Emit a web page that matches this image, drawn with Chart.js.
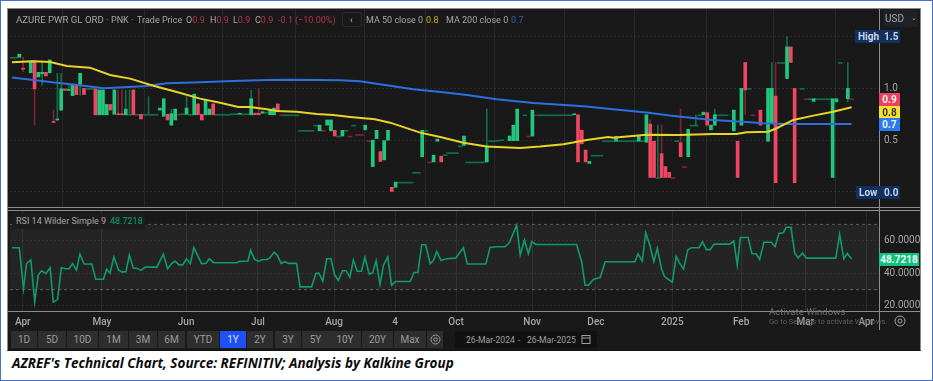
<!DOCTYPE html>
<html>
<head>
<meta charset="utf-8">
<title>AZREF Technical Chart</title>
<script src="https://cdn.jsdelivr.net/npm/chart.js"></script>
<style>
html, body { margin: 0; padding: 0; background: #fff; }
#page { position: relative; width: 933px; height: 381px; overflow: hidden; box-sizing: border-box; font-family: Roboto, "Noto Sans", sans-serif; }
#frame { position: absolute; left: 0; top: 0; width: 933px; height: 381px; box-sizing: border-box; border: 1.5px solid #4472c4; }
#panel { position: absolute; left: 7px; top: 8px; width: 914px; height: 343px; box-sizing: border-box; background: #191919; border: 1px solid #8a8a8a; border-bottom: 1px solid #111; }
canvas { position: absolute; left: 10px; }
#priceChart { top: 9px; }
#rsiChart { top: 211px; }
.line { position: absolute; background: #8e8e8e; }
.t { position: absolute; white-space: nowrap; font-size: 9px; line-height: 12px; color: #a6a6a6; }
.red { color: #b5324d; }
.box { position: absolute; text-align: center; font-size: 10px; font-weight: 700; line-height: 13px; height: 13px; }
.btn { position: absolute; top: 331px; height: 17px; line-height: 17px; text-align: center; background: #2e2e2e; color: #9a9a9a; font-size: 10px; }
#caption { position: absolute; left: 12px; top: 354px; font-family: "Open Sans", sans-serif; font-weight: 700; font-style: italic; font-size: 13.5px; line-height: 18px; color: #0b0b0b; white-space: nowrap; }
</style>
</head>
<body>
<div id="page">
  <div id="frame"></div>
  <div id="panel"></div>
  <canvas id="priceChart" width="910" height="198"></canvas>
  <canvas id="rsiChart" width="910" height="120"></canvas>

  <div class="line" style="left:8px;top:207px;width:912px;height:1px"></div>
  <div class="line" style="left:8px;top:210px;width:912px;height:1px"></div>
  <div class="line" style="left:8px;top:311px;width:912px;height:1px"></div>
  <div class="line" style="left:879px;top:9px;width:1px;height:321px"></div>

  <div class="t" style="left:16px;top:14px;font-size:9.6px">AZURE PWR GL ORD</div>
  <div class="t" style="left:106px;top:14px">·</div>
  <div class="t" style="left:111px;top:14px">PNK</div>
  <div class="t" style="left:131px;top:14px">·</div>
  <div class="t" style="left:137px;top:14px">Trade Price</div>
  <div class="t" style="left:186px;top:14px">O<span class="red">0.9</span></div>
  <div class="t" style="left:210px;top:14px">H<span class="red">0.9</span></div>
  <div class="t" style="left:233px;top:14px">L<span class="red">0.9</span></div>
  <div class="t" style="left:255px;top:14px">C<span class="red">0.9</span></div>
  <div class="t red" style="left:278px;top:14px">-0.1</div>
  <div class="t red" style="left:295px;top:14px">(−10.00%)</div>
  <div style="position:absolute;left:342px;top:12px;width:20px;height:15px;box-sizing:border-box;border:1px solid #2c2c2c;border-radius:2px"></div>
  <div class="t" style="left:350px;top:14px;color:#c8c8c8">‹</div>
  <div class="t" style="left:366px;top:14px">MA 50 close 0</div>
  <div class="t" style="left:426px;top:14px;color:#c4b222">0.8</div>
  <div class="t" style="left:446px;top:14px">MA 200 close 0</div>
  <div class="t" style="left:511px;top:14px;color:#2d62b5">0.7</div>

  <div class="box" style="left:883px;top:10px;width:35px;height:17px;line-height:17px;background:#1e2226;color:#a6a6a6;font-weight:400;text-align:left;text-indent:2px;border-radius:2px">USD</div>
  <div class="t" style="left:911px;top:11px;font-size:7px;line-height:14px">⌄</div>

  <div class="box" style="left:855px;top:30px;width:45px;background:#12305e;color:#c9d4e6;text-align:left;text-indent:3px">High<span style="position:absolute;left:29px;text-indent:0">1.5</span></div>
  <div class="box" style="left:856px;top:186px;width:44px;background:#12305e;color:#c9d4e6;text-align:left;text-indent:3px">Low<span style="position:absolute;left:28px;text-indent:0">0.0</span></div>
  <div class="box" style="left:879px;top:93px;width:21px;background:#ee4060;color:#f5f5f5">0.9</div>
  <div class="box" style="left:879px;top:106px;width:21px;background:#f6e12b;color:#333">0.8</div>
  <div class="box" style="left:879px;top:118px;width:21px;background:#2b7bf0;color:#f5f5f5">0.7</div>

  <div style="position:absolute;left:12px;top:214px;width:133px;height:15px;background:#1c1c1c"></div>
  <div class="t" style="left:16px;top:215px">RSI 14 Wilder Simple 9</div>
  <div class="t" style="left:110px;top:215px;color:#0aa06e">48.7218</div>
  <div class="box" style="left:879px;top:253px;width:40px;background:#13c07e;color:#eafff5">48.7218</div>

  <div class="t" style="left:769px;top:306px;font-size:9.6px;color:#6f6f6f">Activate Windows</div>
  <div class="t" style="left:769px;top:316px;font-size:7.5px;color:#5f5f5f">Go to Settings to activate Windows.</div>

  <svg style="position:absolute;left:894px;top:315px" width="12" height="12" viewBox="0 0 12 12" fill="none" stroke="#a6a6a6" stroke-width="1"><circle cx="6" cy="6" r="5"/><circle cx="6" cy="6" r="2"/></svg>

  <div class="btn" style="left:11px;width:26px">1D</div>
  <div class="btn" style="left:38px;width:28px">5D</div>
  <div class="btn" style="left:67px;width:31px">10D</div>
  <div class="btn" style="left:99px;width:29px">1M</div>
  <div class="btn" style="left:129px;width:28px">3M</div>
  <div class="btn" style="left:158px;width:27px">6M</div>
  <div class="btn" style="left:187px;width:32px">YTD</div>
  <div class="btn" style="left:220px;width:26px;background:#1f4ff5;color:#d8e2ff">1Y</div>
  <div class="btn" style="left:247px;width:26px">2Y</div>
  <div class="btn" style="left:275px;width:26px">3Y</div>
  <div class="btn" style="left:302px;width:27px">5Y</div>
  <div class="btn" style="left:329px;width:32px">10Y</div>
  <div class="btn" style="left:362px;width:31px">20Y</div>
  <div class="btn" style="left:394px;width:32px">Max</div>
  <div class="btn" style="left:427px;width:16px"></div>
  <svg style="position:absolute;left:430px;top:334px" width="11" height="11" viewBox="0 0 11 11" fill="none" stroke="#9a9a9a" stroke-width="1"><circle cx="5.5" cy="5.5" r="4.5"/><circle cx="5.5" cy="5.5" r="1.8"/></svg>
  <div style="position:absolute;left:455px;top:331px;width:142px;height:17px;background:#111"></div>
  <div class="t" style="left:466px;top:334px;font-size:8.6px;color:#a0a0a0">26-Mar-2024</div>
  <div class="t" style="left:518px;top:334px;font-size:8.6px;color:#a0a0a0">-</div>
  <div class="t" style="left:527px;top:334px;font-size:8.6px;color:#a0a0a0">26-Mar-2025</div>
  <svg style="position:absolute;left:581px;top:334px" width="10" height="10" viewBox="0 0 10 10" fill="none" stroke="#a0a0a0" stroke-width="1"><rect x="1" y="1.5" width="8" height="8"/><line x1="1" y1="4" x2="9" y2="4"/></svg>

  <div id="caption">AZREF's Technical Chart, Source: REFINITIV; Analysis by Kalkine Group</div>
</div>

<script>
// price data, one entry per session, null where the feed has no trade
const opens = [
  1.30,1.30,1.30,1.195,1.265,1.15,1.265,1.11,1.14,1.155,
  1.15,.675,.695,.79,.995,.98,.93,1.04,1.04,1.0,
  1.0,1.0,.995,.745,.745,.745,.845,.75,.755,.75,
  .745,.75,.985,.75,.75,.75,.75,.75,.75,.79,
  .73,.75,.645,.695,.75,.755,.75,.75,.745,.85,
  .75,.745,.745,.85,.75,.75,.75,.75,.755,.755,
  .75,.755,.755,.745,.76,.76,.76,.77,.745,.745,
  .85,.745,.745,.745,.745,.745,.595,.595,.595,.595,
  .645,.59,.595,.645,.59,.595,.54,.54,.595,.54,
  .645,.555,.555,.60,.495,.245,.515,.39,.31,.50,
  .045,.045,.095,.095,.095,.095,.19,.19,.34,.595,
  .29,.29,.49,.345,.36,.38,.38,.38,.445,.45,
  .29,.29,.29,.29,.29,.29,.495,.495,.50,.505,
  null,.495,.495,.495,null,.745,.54,.54,.745,.745,
  .745,.745,.745,.745,.745,.745,.745,.745,.745,.745,
  .595,.405,.275,.355,.355,.355,.495,.495,.495,.49,
  .495,.495,.495,.495,.495,.49,.495,.48,.655,.49,
  .14,.37,.245,.19,.14,.495,.475,.245,.34,.645,
  .645,.745,.745,.765,.60,.645,.745,.745,.745,.69,
  .59,.49,.645,1.25,1.0,.745,null,.79,null,.49,
  .66,.925,1.25,1.25,1.095,1.40,1.0,null,1.0,.90,
  .90,.875,.90,.90,.90,.90,.14,.87,1.25,null,
  .90,.90
];
const closes = [
  1.30,1.30,1.33,1.185,1.265,1.265,.995,1.155,1.155,1.12,
  1.275,.67,.70,.995,.98,.985,1.04,.94,1.145,.94,
  1.0,1.0,.745,.985,.985,.845,.79,.985,.745,.745,
  .80,.75,.745,.75,.705,.75,.75,.75,.75,.81,
  .90,.695,.755,.80,.75,.755,.81,.75,.945,.745,
  .695,.895,.80,.745,.75,.75,.75,.75,.755,.755,
  .76,.755,.755,.90,.745,.745,.775,.77,.79,.81,
  .78,.745,.745,.745,.745,.745,.595,.595,.595,.595,
  .645,.645,.595,.695,.695,.54,.54,.595,.595,.54,
  .645,.555,.555,.645,.495,.50,.595,.295,.495,.595,
  0,.095,.095,.095,.095,.095,.19,.19,.595,.595,
  .29,.355,.51,.29,.36,.38,.38,.38,.445,.54,
  .29,.29,.29,.29,.29,.445,.495,.495,.50,.505,
  null,.54,.645,.80,null,.745,.54,.79,.745,.745,
  .745,.745,.745,.745,.745,.745,.745,.745,.755,.29,
  .465,.29,.295,.355,.355,.355,.495,.495,.495,.535,
  .495,.495,.495,.495,.495,.54,.495,.745,.14,.14,
  .14,.14,.14,.14,.14,.495,.34,.245,.605,.645,
  .645,.745,.77,.645,.645,.745,.745,.745,.745,.69,
  .79,.14,1.0,.985,1.0,.745,null,.645,null,1.0,
  1.0,.09,1.25,1.25,1.40,1.25,.09,null,1.0,.90,
  .90,.90,.90,.90,.90,.90,.90,.90,1.25,null,
  1.0,.90
];
// sessions whose high/low go past the body
const wickSessions = [3,6,8,11,12,13,15,18,28,29,30,31,36,42,46,63,65,125,159,168,170,171,176,180,185,193,200,201,204,220];
const wickHighs = [1.30,1.265,1.265,.79,1.145,1.145,1.04,1.145,.985,.985,.98,.985,.92,.80,.92,.98,1.0,.80,.54,.695,.645,.645,.80,.745,.80,1.25,1.25,1.25,1.5,1.25];
const wickLows = [1.16,.645,1.03,.67,.69,.79,.98,.935,.745,.745,.745,.745,.745,.645,.75,.745,.745,.29,.49,.14,.14,.14,.34,.645,.645,.745,.66,.09,1.095,.87];
// flat sessions that printed below the previous close
const downFlats = [44,71,82,89,91,92,94,110,136,138,174,177,195,209,221];

const ma50X = [0,5.5,9.9,14.2,20.2,25.4,30.6,36.6,42.7,48.7,53.9,58.6,61.6,66,68.6,73.7,78.9,83.2,87.6,94,97.9,105.7,110.9,116.9,122.9,131.6,136.7,142.8,148.8,154.4,155.6,164.3,172.9,181.5,187.6,190.2,195.8,198,202.3,207.5,212.6,217.4];
const ma50 = [1.252,1.261,1.255,1.216,1.20,1.129,1.094,1.026,.965,.901,.862,.82,.82,.798,.782,.775,.753,.743,.724,.701,.669,.573,.531,.476,.438,.425,.438,.46,.502,.531,.524,.553,.55,.56,.56,.576,.582,.615,.695,.737,.775,.817];
const ma200X = [0,5.5,11.6,17.6,23.7,28.9,34.9,40.1,48.7,57.3,66,72,79.8,85,90.1,97,103.9,111.7,117.8,125.5,135,148,155.6,164.3,170.3,176.3,181.5,190.2,194.5,200.5,207.5,217.4];
const ma200 = [1.104,1.081,1.055,1.03,1.001,1.01,1.023,1.049,1.059,1.071,1.081,1.084,1.081,1.078,1.068,1.03,.991,.962,.936,.894,.859,.827,.798,.766,.737,.714,.695,.676,.663,.656,.656,.656];

const rsiX = [0,1.9,3,3.8,4.9,5.9,6.8,7.7,8.8,9.9,10.7,11.8,12.8,13.8,14.8,15.7,16.7,17.6,18.7,20.7,21.7,23.7,24.5,25.4,26.4,27.6,28.4,29.5,30.4,31.4,32.5,33.4,34.5,37.5,39.2,40.3,41.4,42.2,43.3,44.2,45.2,46.2,47.1,49.1,50.2,51.1,52.2,58.2,59,61.1,61.8,62.8,63.8,64.7,66,66.8,67.9,68.7,69.7,70.7,71.6,73.7,74.6,77.6,78.7,79.5,80.5,81.5,82.6,83.5,84.5,85.6,86.5,87.5,88.4,89.4,90.5,91.4,92.5,93.4,94.3,95.3,96.2,97.3,98.3,99.3,103.1,104.1,105.1,106.1,107.1,108.3,109.1,110,111.1,112.6,114.9,116.9,117.9,122.7,123.8,125.5,127.7,128.8,130.7,131.6,132.7,133.7,134.6,135.7,146.2,147.5,148.4,149.3,150.6,152.3,153.6,161.3,162.1,163.2,164.1,165.2,166.2,167.1,168.2,169,171,172,172.9,173.9,175,175.9,177.9,178.8,179.8,180.8,181.8,185.8,186.9,187.8,188.6,190.6,191.6,192.7,193.6,194.7,196.6,197.6,198.6,199.7,200.5,201.7,202.7,203.6,204.7,205.7,213.3,214.3,215.4,216.3,217.4];
const rsi = [55.7,55.7,30.7,46.1,48.1,22.5,38.9,41.6,39.9,43.4,22.3,23.9,43.4,42.8,42.8,45.9,42,51.8,45.7,45.7,36.4,36.4,42.4,40.1,50,42,40.9,40.9,51.2,43.2,43,41.8,43.8,43.8,51.8,42.8,46.1,47.5,45.2,45.2,48.9,45.9,55.7,45.9,46.1,48.9,46.5,46.5,47.3,47.5,54.1,48.7,47.3,48.3,48.5,49.5,53,51.2,46.1,47.1,46.1,46.1,31.7,31.7,39.9,40.1,35.2,48.9,48.9,39.3,35.6,41.6,41.6,37.7,48.1,41.3,41.3,49.8,39.5,40.3,47.7,33.1,45,50,32.7,35,35,40.5,40.5,57.5,57.5,45.9,47.7,53.4,47.9,48.9,49.3,55.7,45.7,45.7,55.9,56.3,56.3,58.8,69.6,51.2,60.4,52,59.4,57.7,57.7,47.1,32.7,32.7,36.4,37.4,47.1,47.1,52,47.5,64.9,56.9,47.1,55.3,42.6,37.9,34.6,50.4,46.1,42.6,54.5,55.7,55.7,59.4,54.5,54.5,57.9,57.9,59.8,45,62,62,52,52,48.5,59,59,56.3,64.5,64.9,68.2,68.2,52.2,49.5,52.4,49.3,49.3,63.9,48.9,52.2,48.72];

const monthTicks = [2.8,23.3,45.1,63.7,83.4,99.2,115,134.7,151.2,171,188.8,205.4,221.2];
const monthLabels = ['Apr','May','Jun','Jul','Aug','4','Oct','Nov','Dec','2025','Feb','Mar','Apr'];
const priceTicks = [1.5,1.0,0.5,0];
const rsiTicks = [60,40,20];

const GREEN = '#22c77c', RED = '#f24463', DARK_GREEN = '#0f6e4a', DARK_RED = '#7d2338';
const xMin = -0.5, xMax = 224.5;

// candles sit a touch tighter than the axis unit
const candleX = i => i * 0.984 - 0.05;

const bodies = [], flats = [], wicks = [];
opens.forEach((o, i) => {
    const c = closes[i];
    if (o === null) return;
    const down = c < o || downFlats.includes(i);
    if (o === c) {
        flats.push({ x: candleX(i), y: [o, c], color: down ? DARK_RED : DARK_GREEN });
    } else {
        bodies.push({ x: candleX(i), y: [o, c], color: down ? RED : GREEN });
    }
});
wickSessions.forEach((s, n) => {
    const down = closes[s] < opens[s];
    wicks.push({ x: candleX(s), y: [wickLows[n], wickHighs[n]], color: down ? DARK_RED : DARK_GREEN });
});

const barColor = ctx => ctx.raw ? ctx.raw.color : GREEN;
const zip = (xs, ys) => xs.map((x, i) => ({ x: x, y: ys[i] }));

function monthAxis(showLabels, axisHeight) {
    return {
        type: 'linear',
        min: xMin,
        max: xMax,
        offset: false,
        afterBuildTicks: scale => { scale.ticks = monthTicks.map(v => ({ value: v })); },
        afterFit: scale => {
            scale.height = axisHeight;
            scale.paddingLeft = 0;
            scale.paddingRight = 0;
        },
        grid: { color: 'rgba(255,255,255,0.07)', drawTicks: false },
        border: { display: false },
        ticks: {
            display: showLabels,
            autoSkip: false,
            maxRotation: 0,
            padding: 5,
            color: '#a6a6a6',
            font: { family: 'Roboto', size: 10, weight: '500' },
            callback: (v, i) => monthLabels[i]
        }
    };
}

function valueAxis(min, max, ticks, fmt) {
    return {
        position: 'right',
        min: min,
        max: max,
        afterFit: scale => {
            scale.width = 41;
            scale.paddingTop = 0;
            scale.paddingBottom = 0;
        },
        afterBuildTicks: scale => { scale.ticks = ticks.map(v => ({ value: v })); },
        grid: { color: 'rgba(255,255,255,0.08)', drawTicks: false },
        border: { display: false, dash: [2, 2] },
        ticks: { padding: 5, color: '#a6a6a6', font: { family: 'Roboto', size: 10 }, callback: fmt }
    };
}

const common = {
    responsive: false,
    animation: false,
    devicePixelRatio: 1,
    plugins: { legend: { display: false }, tooltip: { enabled: false } },
    layout: { padding: 0 }
};

new Chart(document.getElementById('priceChart'), {
    type: 'bar',
    data: {
        datasets: [
            { type: 'line', data: zip(ma50X, ma50), borderColor: '#e8d52a', borderWidth: 2, pointRadius: 0, order: 0 },
            { type: 'line', data: zip(ma200X, ma200), borderColor: '#2c6fe0', borderWidth: 2, pointRadius: 0, order: 0.5 },
            { data: bodies, backgroundColor: barColor, barThickness: 3, minBarLength: 1, grouped: false, borderSkipped: false, order: 1 },
            { data: flats, backgroundColor: barColor, barThickness: 4, minBarLength: 1, grouped: false, borderSkipped: false, order: 2 },
            { data: wicks, backgroundColor: barColor, barThickness: 1, grouped: false, borderSkipped: false, order: 3 }
        ]
    },
    options: Object.assign({}, common, {
        scales: {
            x: monthAxis(false, 0),
            y: valueAxis(-0.145, 1.766, priceTicks, v => (v === 1 || v === 0.5) ? v.toFixed(1) : '')
        }
    })
});

new Chart(document.getElementById('rsiChart'), {
    type: 'line',
    data: {
        datasets: [
            { data: zip(rsiX, rsi), borderColor: '#0f9b6e', borderWidth: 1.6, pointRadius: 0 },
            { data: zip([xMin, xMax], [70, 70]), borderColor: 'rgba(255,255,255,0.28)', borderWidth: 1, borderDash: [3, 3], pointRadius: 0, fill: '+1', backgroundColor: 'rgba(255,255,255,0.05)' },
            { data: zip([xMin, xMax], [30, 30]), borderColor: 'rgba(255,255,255,0.28)', borderWidth: 1, borderDash: [3, 3], pointRadius: 0 }
        ]
    },
    options: Object.assign({}, common, {
        scales: {
            x: monthAxis(true, 20),
            y: valueAxis(16.9, 78.2, rsiTicks, v => v.toFixed(4))
        }
    })
});
</script>
</body>
</html>
